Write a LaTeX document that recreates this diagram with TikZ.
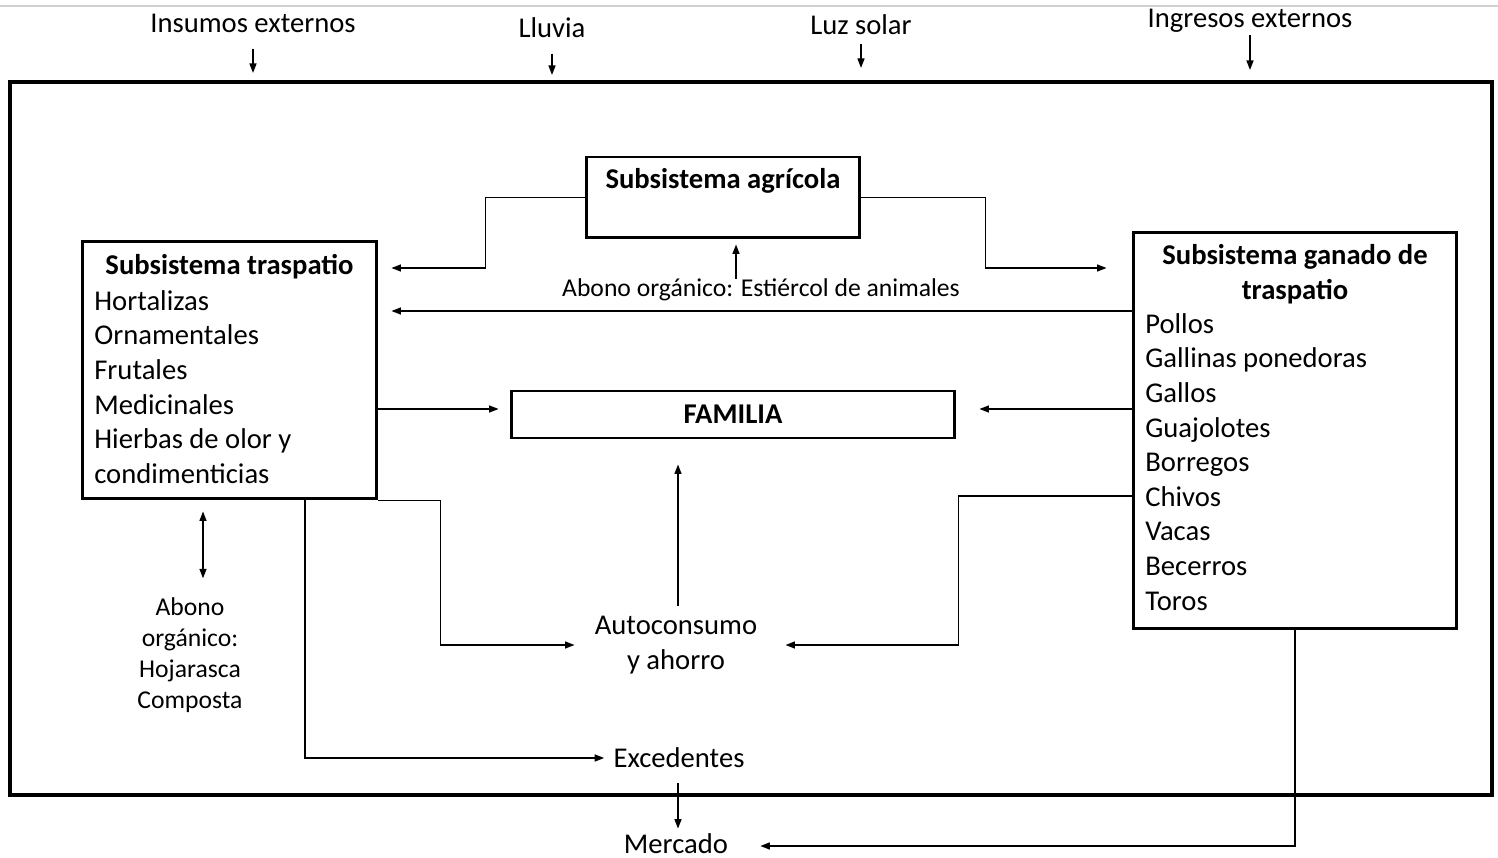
\documentclass[tikz,border=0pt]{standalone}
\usepackage{fontspec}
\setmainfont{Carlito}
\usetikzlibrary{positioning}
\usetikzlibrary{arrows.meta}

\begin{document}
\begin{tikzpicture}[x=0.02cm, y=-0.02cm]

\tikzset{sub-box/.style={draw, line width=1.7pt, inner sep=0pt},
         my-text/.style={font=\fontsize{16.3}{19.7}\selectfont, inner sep=0pt},
         my-small/.style={font=\fontsize{14.6}{17.6}\selectfont, inner sep=0pt},
         flow/.style={line width=0.8pt, -{Triangle[length=1.9mm, width=1.4mm]}}}

\useasboundingbox (0,0) rectangle (1498,858);
\draw[black!18, line width=0.7pt] (0,6) -- (1498,6);

\node (sistema) [draw, line width=2.4pt, minimum width=29.64cm, minimum height=14.26cm] at (751,438.5) {};

\node (insumos) [my-text, anchor=base] at (253,33) {Insumos externos};
\node (lluvia) [my-text, anchor=base] at (552,38) {Lluvia};
\node (luz) [my-text, anchor=base] at (861,35) {Luz solar};
\node (ingresos) [my-text, anchor=base] at (1250,28) {Ingresos externos};

\draw[flow, shorten <=0.3cm, shorten >=0.14cm] (insumos.south) -- (insumos.south |- sistema.north);
\draw[flow, shorten <=0.3cm, shorten >=0.1cm] (lluvia.south) -- (lluvia.south |- sistema.north);
\draw[flow, shorten <=0.16cm, shorten >=0.24cm] (luz.south) -- (luz.south |- sistema.north);
\draw[flow, shorten <=0.04cm, shorten >=0.2cm] (ingresos.south) -- (ingresos.south |- sistema.north);

% subsistemas
\node (agricola) [sub-box, minimum width=5.48cm, minimum height=1.62cm] at (723,197.5) {};
\node (agricola-title) [my-text, anchor=base, font=\fontsize{16.3}{19.7}\selectfont\bfseries] at (723,189) {Subsistema agrícola};

\node (traspatio) [sub-box, minimum width=5.9cm, minimum height=5.16cm] at (229.5,370) {};
\node (traspatio-title) [my-text, anchor=base, font=\fontsize{16.3}{19.7}\selectfont\bfseries] at (229.5,275) {Subsistema traspatio};
\node (traspatio-list) [my-text, anchor=north west, align=left] at (94,290)
  {Hortalizas\\Ornamentales\\Frutales\\Medicinales\\Hierbas de olor y\\condimenticias};

\node (ganado) [sub-box, minimum width=6.48cm, minimum height=7.94cm] at (1295,430.5) {};
\node (ganado-title) [my-text, anchor=north, align=center, font=\fontsize{16.3}{19.7}\selectfont\bfseries] at (1295,244)
  {Subsistema ganado de\\traspatio};
\node (ganado-list) [my-text, anchor=north west, align=left] at (1145,313)
  {Pollos\\Gallinas ponedoras\\Gallos\\Guajolotes\\Borregos\\Chivos\\Vacas\\Becerros\\Toros};

\node (familia) [sub-box, minimum width=8.88cm, minimum height=0.94cm, font=\fontsize{16.3}{19.7}\selectfont\bfseries] at (733,414.5) {FAMILIA};

\node (estiercol) [my-small] at (761,290) {Abono orgánico: Estiércol de animales};
\node (hojarasca) [my-small, align=center] at (190,655) {Abono\\orgánico:\\Hojarasca\\Composta};
\node (autoconsumo) [my-text, align=center] at (676,645) {Autoconsumo\\y ahorro};
\node (excedentes) [my-text] at (679,758) {Excedentes};
\node (mercado) [my-text] at (676,844) {Mercado};

% flujos
\draw[flow, shorten >=0.26cm] (agricola.west) -- ++(-99,0) |- (traspatio.east |- 0,268);
\draw[flow, shorten >=0.5cm] (agricola.east) -- ++(124,0) |- (ganado.west |- 0,268);
\draw[flow, shorten >=0.1cm] ([xshift=-0.5cm]estiercol.north) coordinate (e-up) -- (e-up |- agricola.south);
\draw[flow, shorten >=0.26cm] (ganado.west |- 0,311) -- (traspatio.east |- 0,311);
\draw[flow, shorten >=0.22cm] (traspatio.east |- 0,409) -- (familia.west |- 0,409);
\draw[flow, shorten >=0.46cm] (ganado.west |- 0,409) -- (familia.east |- 0,409);
\draw[flow, shorten <=0.2cm, shorten >=0.5cm] (autoconsumo.north -| 678,0) -- (familia.south -| 678,0);
\draw[flow, shorten >=0.4cm] (traspatio.south east) -- ++(62,0) |- (autoconsumo.west);
\draw[flow, shorten >=0.56cm] (ganado.west |- 0,496) -- ++(-173,0) |- (autoconsumo.east);
\draw[line width=0.8pt, {Triangle[length=1.9mm, width=1.4mm]}-{Triangle[length=1.9mm, width=1.4mm]}, shorten <=0.22cm, shorten >=0.38cm]
  (traspatio.south -| 203,0) -- (hojarasca.north -| 203,0);
\draw[flow, shorten >=0.18cm] (traspatio.south -| 305,0) |- (excedentes.west);
\draw[flow, shorten <=0.3cm, shorten >=0.1cm] (excedentes.south -| 678,0) -- (mercado.north -| 678,0);
\draw[flow, shorten >=0.64cm] (ganado.south) |- (mercado.east |- 0,846);

\end{tikzpicture}
\end{document}
